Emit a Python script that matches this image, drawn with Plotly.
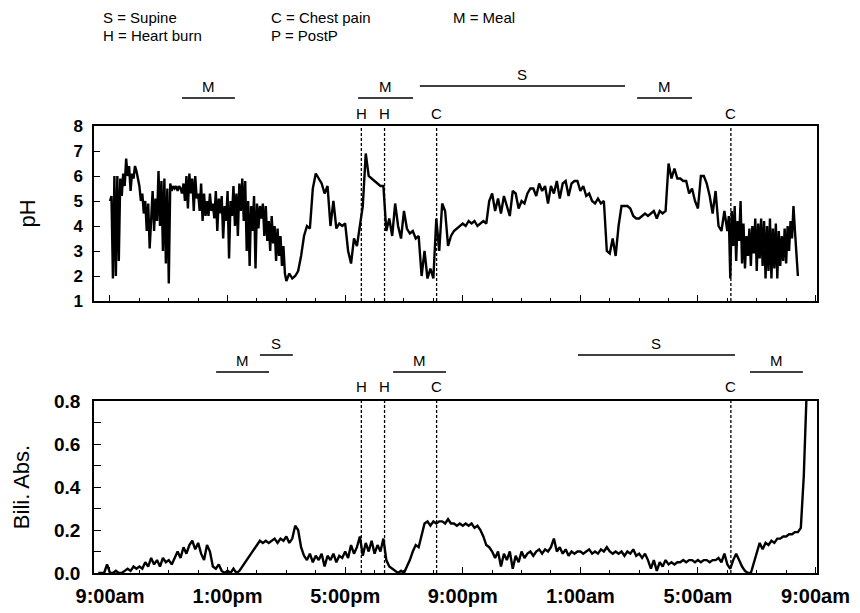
import plotly.graph_objects as go

# ---------------- data (hours after 9:00am) ----------------
# pH trace, stored in three segments: (start hour, step in hours, values)
ph_seg1_start, ph_seg1_step = 0.0, 0.05
ph_seg1_values = [
    5.0, 5.2, 1.9, 6.0, 2.0, 6.0, 2.6, 5.9, 5.2, 6.1,
    5.6, 6.7, 6.0, 6.4, 5.4, 6.1, 5.9, 6.4, 6.2, 5.9,
    5.6, 5.0, 5.3, 4.5, 5.0, 3.8, 4.9, 3.1, 4.6, 5.4,
    3.8, 5.1, 4.2, 6.2, 4.0, 5.8, 3.0, 5.9, 2.5, 5.5,
    1.7, 5.7, 5.4, 5.6, 5.5, 5.6, 5.4, 5.6, 5.5, 5.3,
    5.7, 5.0, 6.0, 4.7, 6.1, 5.3, 5.9, 4.6, 6.0, 5.1,
    5.3, 4.6, 5.7, 4.2, 5.3, 4.4, 5.0, 4.4, 5.3, 4.6,
    4.9, 4.3, 5.4, 3.8, 5.1, 4.5, 5.2, 3.5, 4.8, 4.2,
    5.4, 2.7, 5.0, 4.4, 5.6, 4.0, 5.3, 3.6, 5.7, 4.6,
    5.9, 4.2, 5.8, 3.0, 5.0, 2.4, 4.8, 3.8, 5.2, 2.3,
    4.9, 3.9, 4.8, 4.3, 4.9, 3.6, 4.8, 3.4, 4.2, 3.0,
    4.4, 3.3, 4.0, 2.6, 3.9, 2.8, 3.6, 2.4, 3.2, 2.1,
]
ph_seg2_start, ph_seg2_step = 6.0, 0.1
ph_seg2_values = [
    1.8, 2.1, 1.9, 2.0, 2.2, 2.8, 3.6, 4.0, 3.9, 5.5,
    6.1, 5.9, 5.7, 5.3, 5.6, 4.0, 5.0, 3.9, 4.1, 4.0,
    4.1, 3.0, 2.5, 3.5, 3.2, 4.0, 4.8, 6.9, 6.0, 5.9,
    5.8, 5.7, 5.6, 5.6, 3.8, 4.3, 3.6, 4.9, 4.0, 3.5,
    4.6, 3.9, 3.7, 3.8, 3.5, 3.6, 2.0, 3.0, 1.9, 2.3,
    1.9, 4.3, 3.0, 4.9, 4.6, 3.2, 3.6, 3.8, 3.9, 4.0,
    4.1, 4.0, 4.2, 4.1, 4.2, 4.0, 4.1, 4.2, 4.1, 5.0,
    5.3, 4.6, 5.1, 4.5, 5.2, 4.8, 4.4, 5.4, 5.3, 4.7,
    5.0, 4.9, 5.3, 5.5, 5.5, 5.2, 5.7, 5.4, 5.6, 4.9,
    5.6, 5.3, 5.8, 5.1, 5.7, 5.8, 5.2, 5.7, 5.8, 5.8,
    5.4, 5.6, 5.2, 5.3, 5.0, 4.9, 5.1, 4.9, 5.0, 3.0,
    2.9, 3.5, 2.8, 4.0, 4.8, 4.8, 4.8, 4.7, 4.4, 4.3,
    4.3, 4.4, 4.5, 4.4, 4.5, 4.6, 4.3, 4.6, 4.5, 4.6,
    6.5, 5.9, 6.3, 5.9, 5.9, 5.8, 5.8, 5.3, 5.5, 5.0,
    4.7, 6.0, 6.0, 5.7, 5.2, 4.5, 5.4, 4.0, 3.8, 4.6,
]
ph_seg3_start, ph_seg3_step = 21.0, 0.05
ph_seg3_values = [
    3.8, 4.4, 1.9, 4.6, 3.2, 4.8, 2.6, 4.2, 3.4, 5.0,
    2.5, 4.1, 2.3, 3.6, 2.8, 3.9, 2.4, 4.0, 2.9, 4.3,
    2.2, 4.1, 2.7, 4.3, 2.4, 4.2, 1.9, 4.0, 2.2, 4.3,
    1.9, 3.9, 2.3, 4.1, 1.9, 3.8, 2.4, 3.6, 2.6, 3.9,
    2.5, 4.0, 3.0, 4.2, 3.5, 4.8, 3.8, 2.8, 2.0,
]

# bilirubin absorbance trace
BILI_START, BILI_STEP = -0.4, 0.1
bili_values = [
    0.00, 0.00, 0.00, 0.04,
    0.00, 0.00, 0.01, 0.00, 0.00, 0.01, 0.02, 0.01, 0.03, 0.02,
    0.03, 0.02, 0.05, 0.03, 0.07, 0.04, 0.06, 0.03, 0.07, 0.05,
    0.06, 0.04, 0.07, 0.10, 0.07, 0.12, 0.09, 0.13, 0.15, 0.11,
    0.14, 0.09, 0.06, 0.13, 0.10, 0.03, 0.02, 0.04, 0.01, 0.00,
    0.01, 0.00, 0.02, 0.00, 0.01, 0.03, 0.05, 0.07, 0.09, 0.11,
    0.13, 0.15, 0.14, 0.15, 0.14, 0.15, 0.16, 0.14, 0.16, 0.15,
    0.17, 0.14, 0.16, 0.22, 0.20, 0.12, 0.08, 0.06, 0.09, 0.05,
    0.08, 0.06, 0.09, 0.03, 0.08, 0.06, 0.09, 0.05, 0.08, 0.07,
    0.10, 0.07, 0.13, 0.09, 0.12, 0.17, 0.08, 0.14, 0.10, 0.15,
    0.09, 0.13, 0.10, 0.16, 0.06, 0.03, 0.02, 0.01, 0.00, 0.01,
    0.00, 0.03, 0.06, 0.10, 0.13, 0.12, 0.17, 0.23, 0.24, 0.22,
    0.24, 0.23, 0.24, 0.24, 0.23, 0.25, 0.23, 0.23, 0.22, 0.23,
    0.22, 0.23, 0.22, 0.23, 0.21, 0.22, 0.20, 0.17, 0.13, 0.12,
    0.10, 0.07, 0.10, 0.03, 0.09, 0.06, 0.10, 0.02, 0.08, 0.05,
    0.10, 0.07, 0.09, 0.10, 0.08, 0.10, 0.11, 0.09, 0.11, 0.10,
    0.12, 0.16, 0.10, 0.12, 0.09, 0.11, 0.08, 0.10, 0.09, 0.10,
    0.10, 0.09, 0.10, 0.11, 0.09, 0.10, 0.09, 0.11, 0.10, 0.12,
    0.10, 0.09, 0.10, 0.09, 0.10, 0.08, 0.10, 0.09, 0.11, 0.08,
    0.09, 0.07, 0.09, 0.06, 0.02, 0.06, 0.01, 0.05, 0.03, 0.06,
    0.04, 0.05, 0.04, 0.05, 0.05, 0.06, 0.05, 0.06, 0.06, 0.05,
    0.06, 0.05, 0.06, 0.06, 0.05, 0.06, 0.06, 0.07, 0.05, 0.09,
    0.04, 0.02, 0.06, 0.09, 0.06, 0.03, 0.01, 0.00, 0.00, 0.05,
    0.10, 0.14, 0.11, 0.14, 0.13, 0.15, 0.14, 0.16, 0.16, 0.17,
    0.17, 0.18, 0.18, 0.19, 0.19, 0.21, 0.45, 0.85,
]

# events (hours after 9:00am)
event_labels = ["H", "H", "C", "C"]
event_times = [8.55, 9.34, 11.11, 21.12]

# periods shown as bars above each panel: (label, start, end)
ph_periods = [("M", 2.45, 4.25), ("M", 8.44, 10.31), ("S", 10.54, 17.52), ("M", 17.93, 19.80)]
bili_periods = [("M", 3.61, 5.41), ("S", 5.10, 6.22), ("M", 9.63, 11.43),
                ("S", 15.92, 21.26), ("M", 21.77, 23.57)]

tick_hours = [0, 4, 8, 12, 16, 20, 24]
tick_labels = ["9:00am", "1:00pm", "5:00pm", "9:00pm", "1:00am", "5:00am", "9:00am"]

legend_lines = [["S = Supine", "H = Heart burn"], ["C = Chest pain", "P = PostP"], ["M = Meal"]]

# ---------------- build ----------------
ph_t, ph_v = [], []
for start, step, vals in [(ph_seg1_start, ph_seg1_step, ph_seg1_values),
                          (ph_seg2_start, ph_seg2_step, ph_seg2_values),
                          (ph_seg3_start, ph_seg3_step, ph_seg3_values)]:
    ph_t += [start + step * i for i in range(len(vals))]
    ph_v += vals
bili_t = [BILI_START + BILI_STEP * i for i in range(len(bili_values))]

FONT = "Liberation Sans, Arial, Helvetica, sans-serif"
W, H = 860, 613
ML, MR, MT, MB = 94, 43, 126, 40
PW, PH_ = W - ML - MR, H - MT - MB


def px_x(px):
    return (px - ML) / PW


def px_y(py):
    return (H - MB - py) / PH_


XR = [-0.544, 24.05]

fig = go.Figure()
fig.add_trace(go.Scatter(x=ph_t, y=ph_v, xaxis="x", yaxis="y", mode="lines",
                         line=dict(color="black", width=2.4), showlegend=False))
fig.add_trace(go.Scatter(x=bili_t, y=bili_values, xaxis="x2", yaxis="y2", mode="lines",
                         line=dict(color="black", width=2.4), showlegend=False))

axis_common = dict(showline=True, linecolor="black", linewidth=1.5, mirror=True,
                   showgrid=False, zeroline=False, ticks="inside", tickcolor="black",
                   automargin=False)

fig.update_layout(
    width=W, height=H, autosize=False,
    margin=dict(l=ML, r=MR, t=MT, b=MB),
    paper_bgcolor="white", plot_bgcolor="white",
    font=dict(family=FONT, color="black"),
    xaxis=dict(domain=[0, 1], anchor="y", range=XR, tickvals=tick_hours,
               showticklabels=False, ticklen=6, tickwidth=1.2,
               minor=dict(ticks="inside", ticklen=3, dtick=1, tick0=0, tickcolor="black"),
               **axis_common),
    yaxis=dict(domain=[px_y(301), 1], anchor="x", range=[1, 8], tickvals=list(range(1, 9)),
               ticklen=6, tickwidth=1.2, ticklabelstandoff=6,
               tickfont=dict(size=17, family=FONT, weight="bold"),
               title=dict(text="pH", font=dict(size=22, family=FONT), standoff=32),
               **axis_common),
    xaxis2=dict(domain=[0, 1], anchor="y2", range=XR, tickvals=tick_hours, ticktext=tick_labels,
                ticklen=6, tickwidth=1.2, ticklabelstandoff=4,
                tickfont=dict(size=20, family=FONT, weight="bold"),
                minor=dict(ticks="inside", ticklen=3, dtick=1, tick0=0, tickcolor="black"),
                **axis_common),
    yaxis2=dict(domain=[0, px_y(401)], anchor="x2", range=[0, 0.8],
                tickvals=[0, 0.2, 0.4, 0.6, 0.8], ticktext=["0.0", "0.2", "0.4", "0.6", "0.8"],
                ticklen=7, tickwidth=1.2, ticklabelstandoff=8,
                minor=dict(ticks="inside", ticklen=7, dtick=0.1, tick0=0, tickcolor="black"),
                tickfont=dict(size=19, family=FONT, weight="bold"),
                title=dict(text="Bili. Abs.", font=dict(size=22, family=FONT), standoff=18),
                **axis_common),
)

shapes = []
annotations = []

# event dashed lines and letters
for xr, ydom, label_y in [("x", "y domain", 113), ("x2", "y2 domain", 387)]:
    for lab, t in zip(event_labels, event_times):
        shapes.append(dict(type="line", xref=xr, yref=ydom, x0=t, x1=t, y0=0, y1=1,
                           line=dict(color="black", width=1.3, dash="3px,2px")))
        annotations.append(dict(x=t, y=px_y(label_y), xref=xr, yref="paper", text=lab,
                                showarrow=False, font=dict(size=15, family=FONT),
                                xanchor="center", yanchor="middle"))


def add_periods(periods, xr, bar_y):
    for lab, t0, t1 in periods:
        yb = bar_y[lab]
        shapes.append(dict(type="line", xref=xr, yref="paper", x0=t0, x1=t1,
                           y0=px_y(yb), y1=px_y(yb), line=dict(color="black", width=1.5)))
        annotations.append(dict(x=(t0 + t1) / 2, y=px_y(yb - 1), xref=xr, yref="paper",
                                text=lab, showarrow=False, font=dict(size=15, family=FONT),
                                xanchor="center", yanchor="bottom"))


add_periods(ph_periods, "x", {"M": 98, "S": 86})
add_periods(bili_periods, "x2", {"M": 372, "S": 355})

# legend text
legend_x = [102, 270, 452]
legend_y = [18, 35]
for col, lines in enumerate(legend_lines):
    for row, txt in enumerate(lines):
        annotations.append(dict(x=px_x(legend_x[col]), y=px_y(legend_y[row]), xref="paper", yref="paper",
                                text=txt, showarrow=False, font=dict(size=15, family=FONT),
                                xanchor="left", yanchor="middle", borderpad=0))

fig.update_layout(shapes=shapes, annotations=annotations)
fig.write_html("out.html", config={"displayModeBar": False},
               post_script="document.body.style.margin='0px';document.body.style.overflow='hidden';")
